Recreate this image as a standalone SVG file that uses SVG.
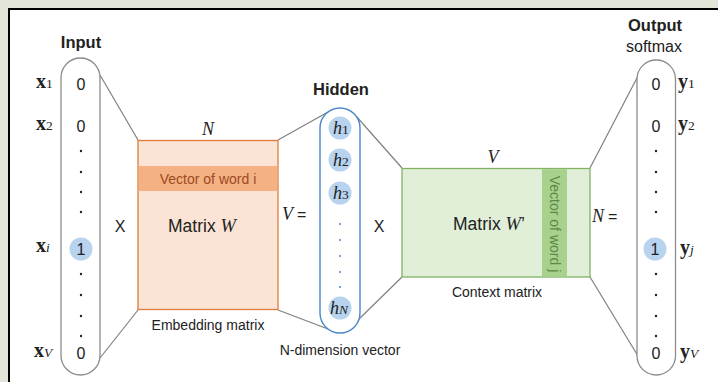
<svg xmlns="http://www.w3.org/2000/svg" width="718" height="382" viewBox="0 0 718 382">
<style>
.s{font-family:"Liberation Sans",Arial,sans-serif;fill:#222}
.b{font-weight:bold;font-size:16.5px}
.n{font-size:16px}
.sm{font-size:14px}
.m{font-family:"Liberation Serif","Times New Roman",serif;fill:#222}
.mi{font-style:italic}
.mb{font-weight:bold;font-size:20px}
.sub{font-size:13.5px}
.dot{fill:#222}
.bdot{fill:#4a86c8}
.hl{fill:#b7d3ee}
.line{stroke:#808080;stroke-width:1.2;fill:none}
</style>
<rect x="0" y="0" width="718" height="382" fill="#e3e5d8"/>
<rect x="9" y="9" width="720" height="380" fill="#fff" stroke="#000" stroke-width="2"/>

<g id="connectors">
<line class="line" x1="100" y1="75" x2="138" y2="140"/>
<line class="line" x1="100" y1="358" x2="138" y2="310"/>
<line class="line" x1="278" y1="140" x2="328" y2="112"/>
<line class="line" x1="278" y1="310" x2="328" y2="329"/>
<line class="line" x1="356" y1="116" x2="402" y2="168"/>
<line class="line" x1="356" y1="322" x2="402" y2="277"/>
<line class="line" x1="590" y1="168" x2="638" y2="76"/>
<line class="line" x1="590" y1="277" x2="638" y2="356"/>
</g>

<g id="input">
<text class="s b" x="81" y="48" text-anchor="middle">Input</text>
<rect x="61" y="58" width="39" height="317" rx="19.5" fill="#fff" stroke="#8c8c8c" stroke-width="1.3"/>
<text class="s n" x="81" y="90" text-anchor="middle">0</text>
<text class="s n" x="81" y="132" text-anchor="middle">0</text>
<circle class="dot" cx="81" cy="151" r="1.2"/>
<circle class="dot" cx="81" cy="172" r="1.2"/>
<circle class="dot" cx="81" cy="192" r="1.2"/>
<circle class="dot" cx="81" cy="212" r="1.2"/>
<circle class="hl" cx="81" cy="249" r="11.5"/>
<text class="s n" x="81" y="255" text-anchor="middle">1</text>
<circle class="dot" cx="81" cy="274" r="1.2"/>
<circle class="dot" cx="81" cy="295" r="1.2"/>
<circle class="dot" cx="81" cy="316" r="1.2"/>
<circle class="dot" cx="81" cy="336" r="1.2"/>
<text class="s n" x="81" y="359" text-anchor="middle">0</text>
<text class="m mb" x="36" y="88">x<tspan class="sub" font-weight="normal">1</tspan></text>
<text class="m mb" x="36" y="130">x<tspan class="sub" font-weight="normal">2</tspan></text>
<text class="m mb" x="36" y="252">x<tspan class="sub mi" font-weight="normal">i</tspan></text>
<text class="m mb" x="34" y="357">x<tspan class="sub mi" font-weight="normal">V</tspan></text>
</g>

<text class="s n" x="120" y="232" text-anchor="middle">X</text>

<g id="matrixW">
<text class="m mi" font-size="18" x="208" y="135" text-anchor="middle">N</text>
<rect x="138" y="140.5" width="140" height="169" fill="#fbe4d5" stroke="#e07b39" stroke-width="1.3"/>
<rect x="138.7" y="166" width="138.6" height="25" fill="#f4b183"/>
<text class="s sm" x="208" y="183.5" text-anchor="middle" style="fill:#9c4a1f">Vector of word i</text>
<text class="s" font-size="17.5" x="168" y="232">Matrix <tspan class="m mi" font-size="18.5">W</tspan></text>
<text class="s sm" x="208" y="330" text-anchor="middle">Embedding matrix</text>
</g>

<text x="282" y="220"><tspan class="m mi" font-size="18">V</tspan><tspan class="s n" dx="4">=</tspan></text>

<g id="hidden">
<text class="s b" x="341" y="95" text-anchor="middle">Hidden</text>
<rect x="320" y="108" width="40" height="225" rx="20" fill="#fff" stroke="#4a86c8" stroke-width="1.4"/>
<circle class="hl" cx="340" cy="128" r="11.5"/>
<text class="m mi" font-size="18" x="333" y="134">h<tspan class="sub" font-style="normal">1</tspan></text>
<circle class="hl" cx="340" cy="160" r="11.5"/>
<text class="m mi" font-size="18" x="333" y="166">h<tspan class="sub" font-style="normal">2</tspan></text>
<circle class="hl" cx="340" cy="193" r="11.5"/>
<text class="m mi" font-size="18" x="333" y="199">h<tspan class="sub" font-style="normal">3</tspan></text>
<circle class="bdot" cx="340" cy="224" r="1"/>
<circle class="bdot" cx="340" cy="240" r="1"/>
<circle class="bdot" cx="340" cy="256" r="1"/>
<circle class="bdot" cx="340" cy="272" r="1"/>
<circle class="bdot" cx="340" cy="287" r="1"/>
<circle class="hl" cx="340" cy="308" r="11.5"/>
<text class="m mi" font-size="18" x="330" y="314">h<tspan class="sub">N</tspan></text>
<text class="s sm" x="340" y="355" text-anchor="middle">N-dimension vector</text>
</g>

<text class="s n" x="379" y="232" text-anchor="middle">X</text>

<g id="matrixWp">
<text class="m mi" font-size="18" x="493" y="163" text-anchor="middle">V</text>
<rect x="402" y="168.5" width="188" height="108.5" fill="#e1efd8" stroke="#82b366" stroke-width="1.3"/>
<rect x="542" y="169.2" width="25" height="107.1" fill="#a9d18e"/>
<text class="s" font-size="14" transform="translate(549.5,224) rotate(90)" x="0" y="0" text-anchor="middle" style="fill:#5e8a45">Vector of word j</text>
<text class="s" font-size="17.5" x="453" y="230">Matrix <tspan class="m mi" font-size="18.5">W</tspan>’</text>
<text class="s sm" x="497" y="297" text-anchor="middle">Context matrix</text>
</g>

<text x="592" y="222"><tspan class="m mi" font-size="18">N</tspan><tspan class="s n" dx="4">=</tspan></text>

<g id="output">
<text class="s b" x="655" y="31" text-anchor="middle">Output</text>
<text class="s n" x="654" y="52" text-anchor="middle">softmax</text>
<rect x="637" y="60" width="38.5" height="315" rx="19.25" fill="#fff" stroke="#8c8c8c" stroke-width="1.3"/>
<text class="s n" x="656" y="90" text-anchor="middle">0</text>
<text class="s n" x="656" y="132" text-anchor="middle">0</text>
<circle class="dot" cx="656" cy="151" r="1.2"/>
<circle class="dot" cx="656" cy="172" r="1.2"/>
<circle class="dot" cx="656" cy="192" r="1.2"/>
<circle class="dot" cx="656" cy="212" r="1.2"/>
<circle class="hl" cx="655" cy="249" r="11.5"/>
<text class="s n" x="655" y="255" text-anchor="middle">1</text>
<circle class="dot" cx="656" cy="274" r="1.2"/>
<circle class="dot" cx="656" cy="295" r="1.2"/>
<circle class="dot" cx="656" cy="316" r="1.2"/>
<circle class="dot" cx="656" cy="336" r="1.2"/>
<text class="s n" x="656" y="359" text-anchor="middle">0</text>
<text class="m mb" x="678" y="88">y<tspan class="sub" font-weight="normal">1</tspan></text>
<text class="m mb" x="678" y="130">y<tspan class="sub" font-weight="normal">2</tspan></text>
<text class="m mb" x="680" y="254">y<tspan class="sub mi" font-weight="normal">j</tspan></text>
<text class="m mb" x="680" y="358">y<tspan class="sub mi" font-weight="normal">V</tspan></text>
</g>
</svg>
